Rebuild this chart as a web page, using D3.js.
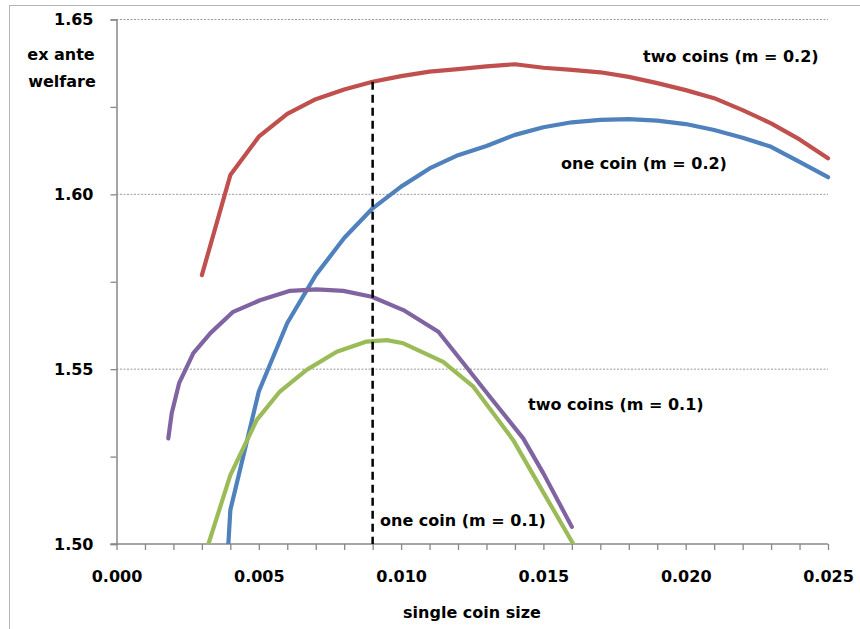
<!DOCTYPE html>
<html><head><meta charset="utf-8">
<script src="https://cdn.jsdelivr.net/npm/d3@7"></script>
<style>
html,body{margin:0;padding:0;background:#fff;}
text{font-family:"DejaVu Sans",sans-serif;font-weight:700;fill:#000;}
</style></head>
<body><svg id="c" width="860" height="629"></svg>
<script>
// ---- data ----
const twoCoins02 = [[0.003,1.5769],[0.004,1.6055],[0.005,1.6165],[0.006,1.6230],[0.007,1.6272],[0.008,1.6300],[0.009,1.6322],[0.010,1.6338],[0.011,1.6351],[0.012,1.6358],[0.013,1.6366],[0.014,1.6372],[0.015,1.6362],[0.016,1.6356],[0.017,1.6349],[0.018,1.6336],[0.019,1.6318],[0.020,1.6298],[0.021,1.6275],[0.022,1.6241],[0.023,1.6203],[0.024,1.6157],[0.025,1.6103]];
const oneCoin02 = [[0.00393,1.5000],[0.004,1.5097],[0.005,1.5436],[0.006,1.5632],[0.007,1.5769],[0.008,1.5875],[0.009,1.5960],[0.010,1.6022],[0.011,1.6074],[0.012,1.6112],[0.013,1.6138],[0.014,1.6170],[0.015,1.6192],[0.016,1.6206],[0.017,1.6213],[0.018,1.6215],[0.019,1.6211],[0.020,1.6201],[0.021,1.6184],[0.022,1.6162],[0.023,1.6136],[0.024,1.6093],[0.025,1.6049]];
const twoCoins01 = [[0.00182,1.5302],[0.00194,1.5374],[0.0022,1.5460],[0.0027,1.5546],[0.0033,1.5603],[0.0041,1.5664],[0.00504,1.5697],[0.0061,1.5724],[0.00703,1.5728],[0.00797,1.5724],[0.00897,1.5707],[0.01008,1.5669],[0.01131,1.5607],[0.01219,1.5517],[0.01312,1.5421],[0.01429,1.5302],[0.0150,1.5202],[0.0160,1.5049]];
const oneCoin01 = [[0.00323,1.5000],[0.004,1.5197],[0.00493,1.5355],[0.00574,1.5436],[0.00668,1.5498],[0.00774,1.5550],[0.00879,1.5579],[0.0095,1.5583],[0.01008,1.5574],[0.01148,1.5521],[0.01254,1.5450],[0.01394,1.5297],[0.01488,1.5164],[0.01605,1.5000]];
const dashLine = [[0.009,1.6322],[0.009,1.50]];
const xTicks = [0,0.005,0.010,0.015,0.020,0.025];
const yTicks = [1.50,1.55,1.60,1.65];
const seriesNames = ["two coins (m = 0.2)","one coin (m = 0.2)","two coins (m = 0.1)","one coin (m = 0.1)"];
const seriesColors = ["#C0504D","#4F81BD","#8064A2","#9BBB59"];

// ---- chart ----
const FS = "16px";
const svg = d3.select("#c");
svg.append("rect").attr("x",9.5).attr("y",5.5).attr("width",900).attr("height",700)
  .attr("fill","#fff").attr("stroke","#b4b4b4").attr("stroke-width",1);

const x = d3.scaleLinear().domain([0,0.025]).range([116.5,828]);
const y = d3.scaleLinear().domain([1.50,1.65]).range([544,19.5]);

svg.append("defs").append("clipPath").attr("id","clip")
  .append("rect").attr("x",116.5).attr("y",10).attr("width",720).attr("height",534);

// gridlines
svg.append("g").selectAll("line").data(yTicks.filter(d=>d>1.5)).join("line")
  .attr("x1",x(0)).attr("x2",x(0.025)).attr("y1",d=>y(d)).attr("y2",d=>y(d))
  .attr("stroke","#9a9a9a").attr("stroke-width",1).attr("stroke-dasharray","2,1.5");

// y axis
const yAxisMinor = d3.axisLeft(y).tickValues([1.50,1.525,1.55,1.575,1.60,1.625,1.65]).tickSize(6).tickFormat("");
const gy = svg.append("g").attr("transform",`translate(${x(0)},0)`).call(yAxisMinor);
gy.select(".domain").attr("stroke","#888").attr("stroke-width",1.5);
gy.selectAll(".tick line").attr("stroke","#888").attr("stroke-width",1.3);
const gyl = svg.append("g").attr("transform",`translate(${x(0)},0)`)
  .call(d3.axisLeft(y).tickValues(yTicks).tickSize(0).tickPadding(23).tickFormat(d3.format(".2f")));
gyl.select(".domain").remove();
gyl.selectAll("text").style("font-size",FS).style("font-family","DejaVu Sans, sans-serif").style("font-weight","700");

// x axis
const minorX = d3.range(0,26).map(i=>i/1000);
const gx = svg.append("g").attr("transform",`translate(0,${y(1.50)})`)
  .call(d3.axisBottom(x).tickValues(minorX).tickSize(6).tickSizeOuter(0).tickFormat(""));
gx.select(".domain").attr("stroke","#888").attr("stroke-width",1.5).attr("d",`M${x(0)-6},0H${x(0.025)}`);
gx.selectAll(".tick line").attr("stroke","#888").attr("stroke-width",1.3);
const gxl = svg.append("g").attr("transform",`translate(0,${y(1.50)})`)
  .call(d3.axisBottom(x).tickValues(xTicks).tickSize(0).tickPadding(27).tickFormat(d3.format(".3f")));
gxl.select(".domain").remove();
gxl.selectAll("text").style("font-size",FS).style("font-family","DejaVu Sans, sans-serif").style("font-weight","700");

// lines
const line = d3.line().x(d=>x(d[0])).y(d=>y(d[1]));
const allSeries = [twoCoins02, oneCoin02, twoCoins01, oneCoin01];
svg.append("g").attr("clip-path","url(#clip)").selectAll("path").data(allSeries).join("path")
  .attr("d",line).attr("fill","none").attr("stroke",(d,i)=>seriesColors[i])
  .attr("stroke-width",4.2).attr("stroke-linejoin","round").attr("stroke-linecap","round");

// dashed line
svg.append("path").attr("d",line(dashLine)).attr("fill","none").attr("stroke","#000")
  .attr("stroke-width",2.5).attr("stroke-dasharray","8,5");

// series labels
const labelPos = [[643,56],[561,163],[528,404],[380,520]];
svg.append("g").selectAll("text").data(seriesNames).join("text")
  .attr("x",(d,i)=>labelPos[i][0]).attr("y",(d,i)=>labelPos[i][1]).attr("dy","0.35em")
  .style("font-size",FS).text(d=>d);

// axis titles
svg.append("text").attr("x",61).attr("y",54).attr("dy","0.35em").attr("text-anchor","middle").style("font-size",FS).text("ex ante");
svg.append("text").attr("x",62).attr("y",81).attr("dy","0.35em").attr("text-anchor","middle").style("font-size",FS).text("welfare");
svg.append("text").attr("x",472).attr("y",612).attr("dy","0.35em").attr("text-anchor","middle").style("font-size",FS).text("single coin size");
</script></body></html>
